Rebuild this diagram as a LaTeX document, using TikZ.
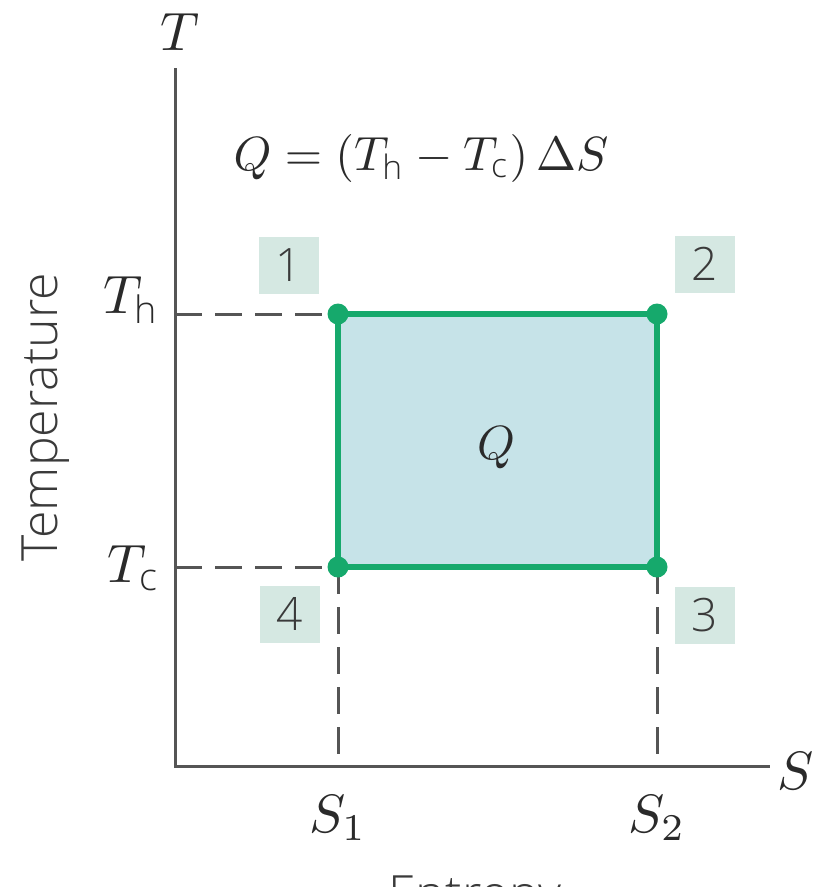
\documentclass[tikz,border=0pt]{standalone}
\usepackage{amsmath}
\usepackage{graphicx}
\usepackage{fontspec}
\IfFontExistsTF{Open Sans Light}{\setsansfont{Open Sans Light}}{\setsansfont{Open Sans}}
\definecolor{axisgrey}{HTML}{555555}
\definecolor{cyclegreen}{HTML}{16A96C}
\definecolor{areafill}{HTML}{C6E3E8}
\definecolor{tagfill}{HTML}{D5E8E2}
\definecolor{txt}{HTML}{2A2A2A}
\definecolor{sftxt}{HTML}{3A3A3A}
\tikzset{
  axisline/.style={draw=axisgrey, line width=3pt},
  guide/.style={draw=axisgrey, line width=3pt, dash pattern=on 27pt off 13pt},
  cycleline/.style={draw=cyclegreen, line width=6pt, line join=miter},
  corner/.style={circle, fill=cyclegreen, inner sep=0pt, minimum size=21pt},
  tag/.style={fill=tagfill, text=sftxt, inner sep=0pt, minimum width=60pt, minimum height=57pt, font=\sffamily\fontsize{46}{50}\selectfont},
  mathlab/.style={text=txt, inner sep=0pt},
  axtitle/.style={text=sftxt, inner sep=0pt, font=\sffamily\fontsize{50}{56}\selectfont}
}
\newcommand{\subsf}[1]{\text{\sffamily #1}}
\newcommand{\mlarge}[1]{\scalebox{5.4}{$#1$}}
\newcommand{\mmid}[1]{\scalebox{4.8}{$#1$}}
\begin{document}
\begin{tikzpicture}[x=1pt,y=-1pt]
\useasboundingbox (0,0) rectangle (818,887);
\clip (0,0) rectangle (818,887);
% coordinates
\coordinate (ytop) at (175,68);
\coordinate (orig) at (175,766);
\coordinate (xend) at (770,766);
\coordinate (yh) at (175,314);
\coordinate (yc) at (175,567);
\coordinate (s1) at (338,766);
\coordinate (s2) at (657,766);
\coordinate (c1) at (338,314);
\coordinate (c2) at (657,314);
\coordinate (c3) at (657,567);
\coordinate (c4) at (338,567);
% area
\fill[areafill] (c1) rectangle (c3);
% guides
\draw[guide] (yh) -- (c1);
\draw[guide] (yc) -- (c4);
\draw[guide] (c4) -- (s1);
\draw[guide] (c3) -- (s2);
% axes
\draw[axisline] (ytop) -- (orig) -- (xend);
% cycle
\draw[cycleline] (c1) -- (c2) -- (c3) -- (c4) -- cycle;
\node[corner] (d1) at (c1) {};
\node[corner] (d2) at (c2) {};
\node[corner] (d3) at (c3) {};
\node[corner] (d4) at (c4) {};
% tags
\node[tag] (t1) at (289,265) {1};
\node[tag] (t2) at (705,264) {2};
\node[tag] (t3) at (705,615) {3};
\node[tag] (t4) at (290,614) {4};
% labels
\node[mathlab] (lT) at (180,32) {\mlarge{T}};
\node[mathlab] (lS) at (796,771) {\mlarge{S}};
\node[mathlab, anchor=east] (lTh) at (160,300) {\mlarge{T_{\subsf{h}}}};
\node[mathlab, anchor=east] (lTc) at (160,568) {\mlarge{T_{\subsf{c}}}};
\node[mathlab] (lS1) at (338,818) {\mlarge{S_1}};
\node[mathlab] (lS2) at (657,818) {\mlarge{S_2}};
\node[mathlab] (eq) at (421,158) {\mmid{Q = (T_{\subsf{h}} - T_{\subsf{c}})\,\Delta S}};
\node[mathlab] (lQ) at (496,448) {\mmid{Q}};
\node[axtitle, rotate=90] (ytitle) at (46,417) {Temperature};
\node[axtitle, anchor=north] (xtitle) at (475,876) {Entropy};
\end{tikzpicture}
\end{document}
